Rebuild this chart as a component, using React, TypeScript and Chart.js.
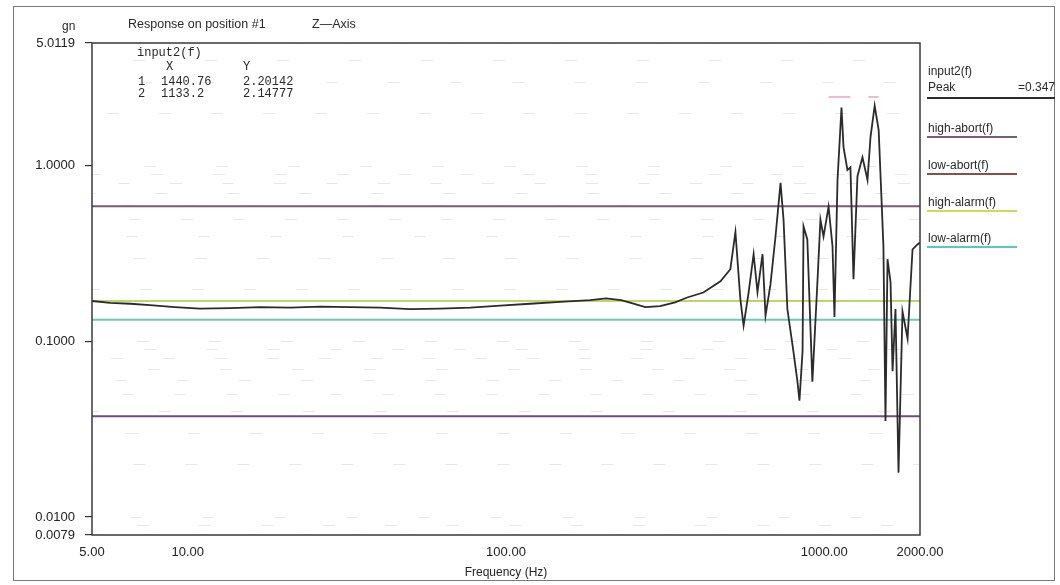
import React, { useEffect, useRef } from "react";
import { Chart, registerables } from "chart.js";

Chart.register(...registerables);

// ---------- data ----------
const frequencies = [
  5, 5.7, 6.6, 7.6, 9.1, 10.9, 13.6, 16.9, 21, 26.1, 32.4, 40.2, 50, 62.1, 77.2, 96, 119, 148, 184, 206,
  230, 250, 274, 305, 340, 371, 417, 472, 507, 526, 545, 558, 578, 600, 617, 640, 654, 678, 703, 729,
  745, 766, 800, 824, 836, 855, 861, 885, 918, 953, 973, 995, 1032, 1062, 1077, 1101, 1133.2, 1150, 1183, 1209,
  1236, 1272, 1319, 1368, 1398, 1440.76, 1483, 1535, 1558, 1581, 1616, 1640, 1675, 1712, 1762, 1828, 1867, 1895, 1964, 2000,
];
const response = [
  0.17, 0.166, 0.164, 0.161, 0.157, 0.154, 0.155, 0.157, 0.156, 0.158, 0.157, 0.156, 0.153, 0.154, 0.156, 0.16, 0.164, 0.168, 0.172, 0.176,
  0.172, 0.165, 0.157, 0.159, 0.167, 0.178, 0.19, 0.22, 0.258, 0.42, 0.175, 0.123, 0.187, 0.314, 0.191, 0.314, 0.14, 0.212, 0.396, 0.8,
  0.494, 0.153, 0.088, 0.059, 0.046, 0.088, 0.452, 0.381, 0.059, 0.226, 0.494, 0.396, 0.586, 0.348, 0.138, 0.832, 2.14777, 1.28, 0.948, 0.98,
  0.226, 0.874, 1.12, 0.832, 1.46, 2.20142, 1.6, 0.348, 0.0352, 0.294, 0.218, 0.0676, 0.153, 0.0179, 0.148, 0.104, 0.207, 0.335, 0.357, 0.366,
];

const limitFreqs = [5, 2000];
const highAbort = [0.59, 0.59];
const lowAbort = [0.0375, 0.0375];
const highAlarm = [0.17, 0.17];
const lowAlarm = [0.133, 0.133];

const peakMarkerA = [1032, 1209];
const peakMarkerB = [1376, 1483];
const peakMarkerLevel = [2.47, 2.47];

const xTicks = [5, 10, 100, 1000, 2000];
const yTicks = [0.0079, 0.01, 0.1, 1, 5.0119];

const cursorRows = [
  ["1", "1440.76", "2.20142"],
  ["2", "1133.2", "2.14777"],
];

const legendItems = [
  { label: "high-abort(f)", color: "#7a5c78", y: 128 },
  { label: "low-abort(f)", color: "#8a4e4a", y: 165 },
  { label: "high-alarm(f)", color: "#d2d65a", y: 202 },
  { label: "low-alarm(f)", color: "#5cc6c0", y: 238 },
];

const SANS = "'Liberation Sans', Arial, sans-serif";
const MONO = "'Liberation Mono', 'DejaVu Sans Mono', monospace";

const pts = (xs: number[], ys: number[]) => xs.map((x, i) => ({ x, y: ys[i] }));

const framePlugin = {
  id: "frameAndFaintGrid",
  beforeDatasetsDraw(chart: any) {
    const { ctx, chartArea } = chart;
    const y = chart.scales.y;
    ctx.save();
    ctx.strokeStyle = "rgba(0,0,0,0.09)";
    ctx.lineWidth = 1;
    let k = 0;
    for (let e = -3; e <= 0; e++) {
      for (let m = 1; m <= 9; m++) {
        const v = m * Math.pow(10, e);
        if (v <= y.min || v >= y.max) continue;
        const py = Math.round(y.getPixelForValue(v)) + 0.5;
        ctx.setLineDash([12, 40 + (k % 3) * 10]);
        ctx.lineDashOffset = (k * 17) % 40;
        ctx.beginPath();
        ctx.moveTo(chartArea.left, py);
        ctx.lineTo(chartArea.right, py);
        ctx.stroke();
        k++;
      }
    }
    ctx.restore();
  },
  afterDraw(chart: any) {
    const { ctx, chartArea } = chart;
    ctx.save();
    ctx.strokeStyle = "#3a3a3a";
    ctx.lineWidth = 1.5;
    ctx.strokeRect(chartArea.left, chartArea.top, chartArea.right - chartArea.left, chartArea.bottom - chartArea.top);
    ctx.restore();
  },
};

function ChartCanvas() {
  const ref = useRef<HTMLCanvasElement | null>(null);
  useEffect(() => {
    if (!ref.current) return;
    const chart = new Chart(ref.current, {
      type: "line",
      data: {
        datasets: [
          {
            label: "input2(f)",
            data: pts(frequencies, response),
            borderColor: "#2b2b2b",
            borderWidth: 1.8,
            pointRadius: 0,
            tension: 0,
          },
          {
            label: "peak A",
            data: pts(peakMarkerA, peakMarkerLevel),
            borderColor: "#e58fb5",
            borderWidth: 1.2,
            pointRadius: 0,
          },
          {
            label: "peak B",
            data: pts(peakMarkerB, peakMarkerLevel),
            borderColor: "#e58fb5",
            borderWidth: 1.2,
            pointRadius: 0,
          },
          {
            label: "high-abort(f)",
            data: pts(limitFreqs, highAbort),
            borderColor: "#7a5c78",
            borderWidth: 2,
            pointRadius: 0,
          },
          {
            label: "low-abort(f)",
            data: pts(limitFreqs, lowAbort),
            borderColor: "#6b4f78",
            borderWidth: 2,
            pointRadius: 0,
          },
          {
            label: "high-alarm(f)",
            data: pts(limitFreqs, highAlarm),
            borderColor: "#b9d86a",
            borderWidth: 2,
            pointRadius: 0,
          },
          {
            label: "low-alarm(f)",
            data: pts(limitFreqs, lowAlarm),
            borderColor: "#6ccab8",
            borderWidth: 2,
            pointRadius: 0,
          },
        ],
      },
      options: {
        animation: false,
        responsive: false,
        maintainAspectRatio: false,
        layout: { padding: { left: 0, right: 140, top: 43, bottom: 0 } },
        plugins: {
          legend: { display: false },
          tooltip: { enabled: false },
          title: { display: false },
        },
        scales: {
          x: {
            type: "logarithmic",
            min: 5,
            max: 2000,
            bounds: "data",
            afterBuildTicks: (s: any) => {
              s.ticks = xTicks.map((v) => ({ value: v }));
            },
            afterFit: (s: any) => {
              s.height = 50;
            },
            ticks: {
              autoSkip: false,
              maxRotation: 0,
              padding: 10,
              color: "#222",
              font: { family: SANS, size: 13 },
              callback: (v: any) => Number(v).toFixed(2),
            },
            grid: { display: false, drawTicks: false },
            border: { display: false },
            title: {
              display: true,
              text: "Frequency (Hz)",
              color: "#222",
              font: { family: SANS, size: 12 },
              padding: { top: 0, bottom: 5 },
            },
          },
          y: {
            type: "logarithmic",
            min: 0.0079,
            max: 5.0119,
            bounds: "data",
            afterBuildTicks: (s: any) => {
              s.ticks = yTicks.map((v) => ({ value: v }));
            },
            afterFit: (s: any) => {
              s.width = 92;
            },
            ticks: {
              autoSkip: false,
              padding: 10,
              color: "#222",
              font: { family: SANS, size: 13 },
              callback: (v: any) => Number(v).toFixed(4),
            },
            grid: {
              display: true,
              drawOnChartArea: false,
              drawTicks: true,
              tickLength: 7,
              color: "#333",
              lineWidth: 1.2,
            },
            border: { display: false },
          },
        },
      },
      plugins: [framePlugin],
    } as any);
    return () => chart.destroy();
  }, []);
  return <canvas ref={ref} width={1060} height={585} style={{ position: "absolute", left: 0, top: 0 }} />;
}

function Txt(props: { x: number; y: number; size: number; font?: string; children: React.ReactNode; color?: string }) {
  const { x, y, size, font, children, color } = props;
  return (
    <div
      style={{
        position: "absolute",
        left: x,
        top: y - size / 2,
        fontSize: size,
        lineHeight: `${size}px`,
        fontFamily: font || SANS,
        color: color || "#2a2a2a",
        whiteSpace: "pre",
      }}
    >
      {children}
    </div>
  );
}

function Rule(props: { x: number; y: number; w: number; color: string; h?: number }) {
  return (
    <div
      style={{
        position: "absolute",
        left: props.x,
        top: props.y,
        width: props.w,
        height: props.h || 2,
        background: props.color,
      }}
    />
  );
}

export default function App() {
  return (
    <div
      style={{
        position: "absolute",
        left: 0,
        top: 0,
        width: 1060,
        height: 585,
        background: "#fff",
        overflow: "hidden",
      }}
    >
      <ChartCanvas />
      {/* outer frame */}
      <div
        style={{
          position: "absolute",
          left: 13,
          top: 6,
          width: 1042,
          height: 575,
          border: "1.5px solid #7a7a7a",
          boxSizing: "border-box",
          pointerEvents: "none",
        }}
      />
      {/* title + unit */}
      <Txt x={128} y={24} size={12.5}>Response on position #1</Txt>
      <Txt x={312} y={24} size={12.5}>Z—Axis</Txt>
      <Txt x={62} y={26} size={12}>gn</Txt>

      {/* cursor readout box */}
      <Txt x={137} y={53} size={12} font={MONO}>input2(f)</Txt>
      <Txt x={166} y={67} size={12} font={MONO}>X</Txt>
      <Txt x={243} y={67} size={12} font={MONO}>Y</Txt>
      {cursorRows.map((r, i) => (
        <React.Fragment key={r[0]}>
          <Txt x={138} y={82 + i * 12} size={12} font={MONO}>{r[0]}</Txt>
          <Txt x={161} y={82 + i * 12} size={12} font={MONO}>{r[1]}</Txt>
          <Txt x={243} y={82 + i * 12} size={12} font={MONO}>{r[2]}</Txt>
        </React.Fragment>
      ))}

      {/* right legend */}
      <Txt x={928} y={71} size={12}>input2(f)</Txt>
      <Txt x={928} y={87} size={12}>Peak</Txt>
      <Txt x={1018} y={87} size={12}>=0.347</Txt>
      <Rule x={927} y={97} w={128} color="#2b2b2b" />
      {legendItems.map((it) => (
        <React.Fragment key={it.label}>
          <Txt x={928} y={it.y} size={12}>{it.label}</Txt>
          <Rule x={927} y={it.y + 8} w={90} color={it.color} />
        </React.Fragment>
      ))}
    </div>
  );
}
